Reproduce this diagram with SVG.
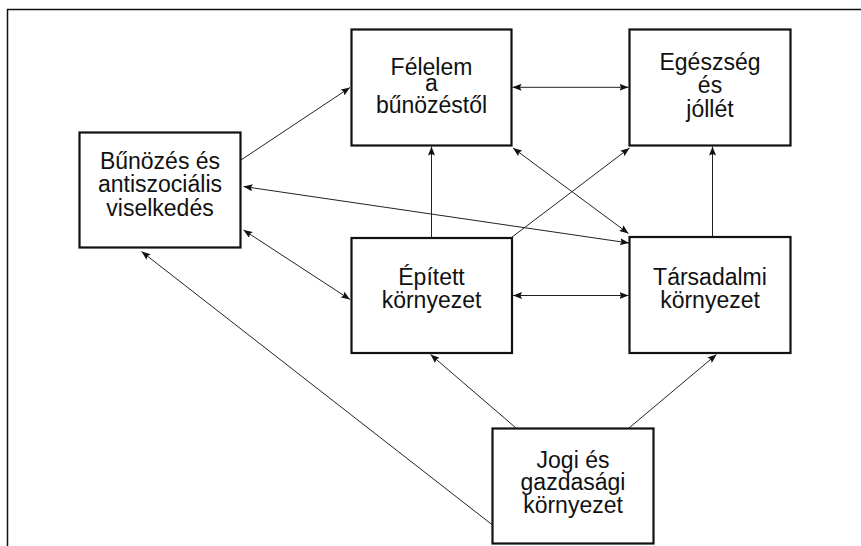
<svg xmlns="http://www.w3.org/2000/svg" width="861" height="546" viewBox="0 0 861 546">
<style>
.box{fill:#fff;stroke:#111;stroke-width:2.2}
.t{font-family:"Liberation Sans",Arial,sans-serif;font-size:23px;fill:#111;text-anchor:middle}
.c{stroke:#222;stroke-width:1;fill:none}
</style>
<defs>
<marker id="ah" viewBox="0 0 9 7" refX="9" refY="3.5" markerWidth="9" markerHeight="7" markerUnits="userSpaceOnUse" orient="auto-start-reverse">
<path d="M0,0 L9,3.5 L0,7 L1.5,3.5 z" fill="#111"/>
</marker>
</defs>
<rect width="861" height="546" fill="#fff"/>
<g id="frame"><path d="M7.5,546 V9.5 H861" fill="none" stroke="#111" stroke-width="1.5"/></g>
<g id="connectors">
<line class="c" x1="241" y1="160" x2="350" y2="87.5" marker-end="url(#ah)"/>
<line class="c" x1="243.5" y1="186.5" x2="629" y2="243" marker-start="url(#ah)" marker-end="url(#ah)"/>
<line class="c" x1="243.5" y1="230" x2="350" y2="299.5" marker-start="url(#ah)" marker-end="url(#ah)"/>
<line class="c" x1="492.5" y1="525" x2="141.5" y2="251.5" marker-end="url(#ah)"/>
<line class="c" x1="512.5" y1="87.3" x2="628.5" y2="87.3" marker-start="url(#ah)" marker-end="url(#ah)"/>
<line class="c" x1="431.5" y1="237.5" x2="431.5" y2="146.5" marker-end="url(#ah)"/>
<line class="c" x1="513" y1="148" x2="628.5" y2="233.5" marker-start="url(#ah)" marker-end="url(#ah)"/>
<line class="c" x1="511.5" y1="237.5" x2="629.5" y2="148" marker-end="url(#ah)"/>
<line class="c" x1="712.5" y1="236.5" x2="712.5" y2="146.5" marker-end="url(#ah)"/>
<line class="c" x1="513" y1="295.5" x2="628.5" y2="295.5" marker-start="url(#ah)" marker-end="url(#ah)"/>
<line class="c" x1="516" y1="428" x2="430.5" y2="354.5" marker-end="url(#ah)"/>
<line class="c" x1="629" y1="428" x2="716.5" y2="354.5" marker-end="url(#ah)"/>
</g>
<g id="felelem">
<rect class="box" x="351.5" y="29.5" width="160" height="116"/>
<text class="t" x="431.5" y="75">Félelem</text>
<text class="t" x="431.5" y="91">a</text>
<text class="t" x="431.5" y="112.5">bűnözéstől</text>
</g>
<g id="egeszseg">
<rect class="box" x="629.5" y="29.5" width="161" height="116"/>
<text class="t" x="710" y="70">Egészség</text>
<text class="t" x="710" y="93.3">és</text>
<text class="t" x="710" y="116.7">jóllét</text>
</g>
<g id="bunozes">
<rect class="box" x="79.5" y="132.5" width="161" height="115"/>
<text class="t" x="160" y="169">Bűnözés és</text>
<text class="t" x="160" y="192.3">antiszociális</text>
<text class="t" x="160" y="215.5">viselkedés</text>
</g>
<g id="epitett">
<rect class="box" x="351.5" y="238" width="160.5" height="115"/>
<text class="t" x="431.5" y="284.7">Épített</text>
<text class="t" x="431.5" y="308">környezet</text>
</g>
<g id="tarsadalmi">
<rect class="box" x="629.5" y="237" width="161" height="116"/>
<text class="t" x="710" y="285.3">Társadalmi</text>
<text class="t" x="710" y="308">környezet</text>
</g>
<g id="jogi">
<rect class="box" x="492.5" y="428.5" width="161" height="115"/>
<text class="t" x="573" y="467.5">Jogi és</text>
<text class="t" x="573" y="490">gazdasági</text>
<text class="t" x="573" y="513">környezet</text>
</g>
</svg>
